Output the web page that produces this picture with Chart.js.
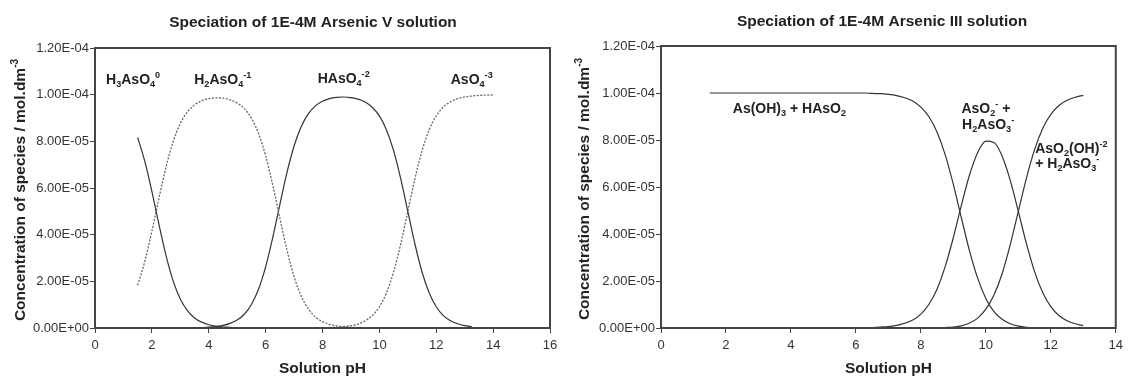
<!DOCTYPE html>
<html>
<head>
<meta charset="utf-8">
<script src="https://cdn.jsdelivr.net/npm/chart.js@4/dist/chart.umd.min.js"></script>
<style>
  body { margin: 0; background: #fff; }
  .box { position: absolute; top: 0; width: 564px; height: 376px; }
</style>
</head>
<body>
<div class="box" style="left:0"><canvas id="arsenicV"></canvas></div>
<div class="box" style="left:564px"><canvas id="arsenicIII"></canvas></div>
<script>
// values are in units of 1E-05 mol.dm-3

// Arsenic V
var phV = [1.5,1.75,2,2.25,2.5,2.75,3,3.25,3.5,3.75,4,4.25,4.5,4.75,5,5.25,5.5,5.75,6,6.25,6.5,6.75,7,7.25,7.5,7.75,8,8.25,8.5,8.75,9,9.25,9.5,9.75,10,10.25,10.5,10.75,11,11.25,11.5,11.75,12,12.25,12.5,12.75,13,13.25,13.5,13.75,14];
var h3aso4 = [8.17,7.15,5.86,4.43,3.09,2.01,1.24,0.74,0.43,0.25,0.14,0.08,0.04,0.03,0.01,0.01,0,
  null,null,null,null,null,null,null,null,null,null,null,null,null,null,null,null,null,null,null,null,null,null,null,null,null,null,null,null,null,null,null,null,null,null,null];
var h2aso4 = [1.83,2.85,4.15,5.57,6.91,7.99,8.76,9.26,9.56,9.74,9.83,9.86,9.85,9.78,9.64,9.40,8.99,8.34,7.38,6.13,4.71,3.34,2.20,1.37,0.82,0.48,0.27,0.16,0.09,0.05,0.03,0.02,0.01,0,
  null,null,null,null,null,null,null,null,null,null,null,null,null,null,null,null,null];
var haso4 = [null,null,null,null,null,null,
  0,0.01,0.01,0.02,0.04,0.06,0.11,0.20,0.34,0.59,1.01,1.66,2.62,3.87,5.29,6.66,7.80,8.63,9.18,9.52,9.72,9.83,9.88,9.90,9.87,9.81,9.69,9.46,9.09,8.49,7.60,6.40,5.00,3.60,2.40,1.51,0.91,0.53,0.31,0.18,0.10,0.06,
  null,null,null];
var aso4 = [null,null,null,null,null,null,null,null,null,null,null,null,null,null,null,null,null,null,null,null,null,null,null,null,
  0,0.01,0.01,0.02,0.03,0.06,0.10,0.17,0.31,0.53,0.91,1.51,2.40,3.60,5.00,6.40,7.60,8.49,9.09,9.47,9.69,9.83,9.90,9.94,9.97,9.98,9.99];

// Arsenic III
var phIII = [1.5,1.75,2,2.25,2.5,2.75,3,3.25,3.5,3.75,4,4.25,4.5,4.75,5,5.25,5.5,5.75,6,6.25,6.5,6.75,7,7.25,7.5,7.75,8,8.25,8.5,8.75,9,9.25,9.5,9.75,10,10.25,10.5,10.75,11,11.25,11.5,11.75,12,12.25,12.5,12.75,13];
var asoh3 = [10,10,10,10,10,10,10,10,10,10,10,10,10,10,10,10,10,10,10,10,
  9.98,9.97,9.94,9.89,9.80,9.66,9.40,8.99,8.33,7.37,6.11,4.67,3.27,2.11,1.26,0.70,0.37,0.18,0.08,0.03,0.01,0,
  null,null,null,null,null];
var aso2 = [null,null,null,null,null,null,null,null,null,null,null,null,null,null,null,null,null,null,null,null,
  0.02,0.04,0.06,0.11,0.20,0.34,0.59,1.01,1.66,2.62,3.85,5.24,6.52,7.47,7.95,7.89,7.32,6.29,4.96,3.59,2.40,1.51,0.91,0.53,0.31,0.18,0.10];
var aso2oh = [null,null,null,null,null,null,null,null,null,null,null,null,null,null,null,null,null,null,null,null,null,null,null,null,null,null,
  0,0,0.01,0.02,0.04,0.09,0.21,0.42,0.80,1.40,2.31,3.54,4.96,6.38,7.59,8.49,9.09,9.47,9.69,9.82,9.90];

var yTicks = [0, 2e-5, 4e-5, 6e-5, 8e-5, 1e-4, 1.2e-4];

var FONT = '"Liberation Sans", Arial, Helvetica, sans-serif';

function fmtE(v) {
  if (Math.abs(v) < 1e-12) return '0.00E+00';
  var e = Math.floor(Math.log10(Math.abs(v)));
  var m = v / Math.pow(10, e);
  if (Math.round(m * 100) >= 1000) { m = m / 10; e = e + 1; }
  return m.toFixed(2) + 'E' + (e < 0 ? '-' : '+') + String(Math.abs(e)).padStart(2, '0');
}

function pts(ph, vals) {
  return ph.map(function (x, i) {
    return { x: x, y: vals[i] == null ? null : vals[i] * 1e-5 };
  });
}

// text with _{sub} and ^{sup}
function drawRich(ctx, str, x, y, size, align) {
  var parts = [], re = /([_^])\{([^}]*)\}/g, last = 0, m;
  while ((m = re.exec(str))) {
    if (m.index > last) parts.push({ t: str.slice(last, m.index), k: '' });
    parts.push({ t: m[2], k: m[1] });
    last = re.lastIndex;
  }
  if (last < str.length) parts.push({ t: str.slice(last), k: '' });
  var w = 0;
  parts.forEach(function (p) {
    p.s = p.k ? size * 0.65 : size;
    ctx.font = 'bold ' + p.s + 'px ' + FONT;
    p.w = ctx.measureText(p.t).width;
    w += p.w;
  });
  var cx = align == 'center' ? x - w / 2 : x;
  var base = y + size * 0.36;
  ctx.textBaseline = 'alphabetic';
  ctx.textAlign = 'left';
  parts.forEach(function (p) {
    ctx.font = 'bold ' + p.s + 'px ' + FONT;
    var dy = p.k == '_' ? size * 0.22 : (p.k == '^' ? -size * 0.42 : 0);
    ctx.fillText(p.t, cx, base + dy);
    cx += p.w;
  });
}

var textPlugin = {
  id: 'texts',
  afterDraw: function (chart, args, o) {
    var ctx = chart.ctx, a = chart.chartArea;
    var xs = chart.scales.x, ys = chart.scales.y;
    ctx.save();
    // frame round the plot
    ctx.strokeStyle = '#444';
    ctx.lineWidth = 2;
    ctx.strokeRect(a.left, a.top, a.right - a.left, a.bottom - a.top);
    ctx.fillStyle = '#222';
    drawRich(ctx, o.title, o.titleX, o.titleY, 15.5, 'center');
    ctx.save();
    ctx.translate(o.yTitleX, (a.top + a.bottom) / 2 + 2);
    ctx.rotate(-Math.PI / 2);
    drawRich(ctx, 'Concentration of species / mol.dm^{-3}', 0, 0, 15.5, 'center');
    ctx.restore();
    o.labels.forEach(function (l) {
      drawRich(ctx, l.text, xs.getPixelForValue(l.x), ys.getPixelForValue(l.y), 14, 'left');
    });
    ctx.restore();
  }
};

function makeChart(id, xMax, yWidth, pad, datasets, texts) {
  return new Chart(document.getElementById(id), {
    type: 'line',
    data: { datasets: datasets },
    plugins: [textPlugin],
    options: {
      responsive: true,
      maintainAspectRatio: false,
      animation: false,
      layout: { padding: pad },
      plugins: { legend: { display: false }, tooltip: { enabled: false }, texts: texts },
      elements: { point: { radius: 0 }, line: { cubicInterpolationMode: 'monotone' } },
      scales: {
        x: {
          type: 'linear', min: 0, max: xMax,
          ticks: { stepSize: 2, autoSkip: false, maxRotation: 0, padding: 5, color: '#333', font: { family: FONT, size: 13 } },
          grid: { drawOnChartArea: false, drawTicks: true, tickLength: 5, color: '#444' },
          border: { display: false },
          title: { display: true, text: 'Solution pH', color: '#222', padding: 0, font: { family: FONT, size: 15.5, weight: 'bold', lineHeight: 1 } },
          afterFit: function (s) { s.height = 48; }
        },
        y: {
          min: 0, max: 1.2e-4,
          afterBuildTicks: function (s) { s.ticks = yTicks.map(function (v) { return { value: v }; }); },
          ticks: { padding: 1, color: '#333', font: { family: FONT, size: 13 }, callback: function (v) { return fmtE(v); } },
          grid: { drawOnChartArea: false, drawTicks: true, tickLength: 5, color: '#444' },
          border: { display: false },
          afterFit: function (s) { s.width = yWidth; }
        }
      }
    }
  });
}

var solid = { borderColor: '#333', borderWidth: 1.2, spanGaps: false };
var dotted = { borderColor: '#666', borderWidth: 1.3, borderDash: [2, 1.5], spanGaps: false };

makeChart('arsenicV', 16, 95, { left: 0, right: 14, top: 48, bottom: 0 }, [
  Object.assign({ label: 'H3AsO4', data: pts(phV, h3aso4) }, solid),
  Object.assign({ label: 'H2AsO4-', data: pts(phV, h2aso4) }, dotted),
  Object.assign({ label: 'HAsO4-2', data: pts(phV, haso4) }, solid),
  Object.assign({ label: 'AsO4-3', data: pts(phV, aso4) }, dotted)
], {
  title: 'Speciation of 1E-4M Arsenic V solution', titleX: 313, titleY: 21, yTitleX: 19,
  labels: [
    { text: 'H_{3}AsO_{4}^{0}', x: 0.39, y: 1.067e-4 },
    { text: 'H_{2}AsO_{4}^{-1}', x: 3.49, y: 1.067e-4 },
    { text: 'HAsO_{4}^{-2}', x: 7.83, y: 1.071e-4 },
    { text: 'AsO_{4}^{-3}', x: 12.51, y: 1.067e-4 }
  ]
});

makeChart('arsenicIII', 14, 97, { left: 0, right: 10.5, top: 46, bottom: 0 }, [
  Object.assign({ label: 'As(OH)3 + HAsO2', data: pts(phIII, asoh3) }, solid),
  Object.assign({ label: 'AsO2- + H2AsO3-', data: pts(phIII, aso2) }, solid),
  Object.assign({ label: 'AsO2(OH)-2 + H2AsO3-', data: pts(phIII, aso2oh) }, solid)
], {
  title: 'Speciation of 1E-4M Arsenic III solution', titleX: 318, titleY: 20, yTitleX: 19,
  labels: [
    { text: 'As(OH)_{3} + HAsO_{2}', x: 2.21, y: 0.936e-4 },
    { text: 'AsO_{2}^{-} +', x: 9.25, y: 0.936e-4 },
    { text: 'H_{2}AsO_{3}^{-}', x: 9.27, y: 0.868e-4 },
    { text: 'AsO_{2}(OH)^{-2}', x: 11.52, y: 0.766e-4 },
    { text: '+ H_{2}AsO_{3}^{-}', x: 11.52, y: 0.702e-4 }
  ]
});
</script>
</body>
</html>
